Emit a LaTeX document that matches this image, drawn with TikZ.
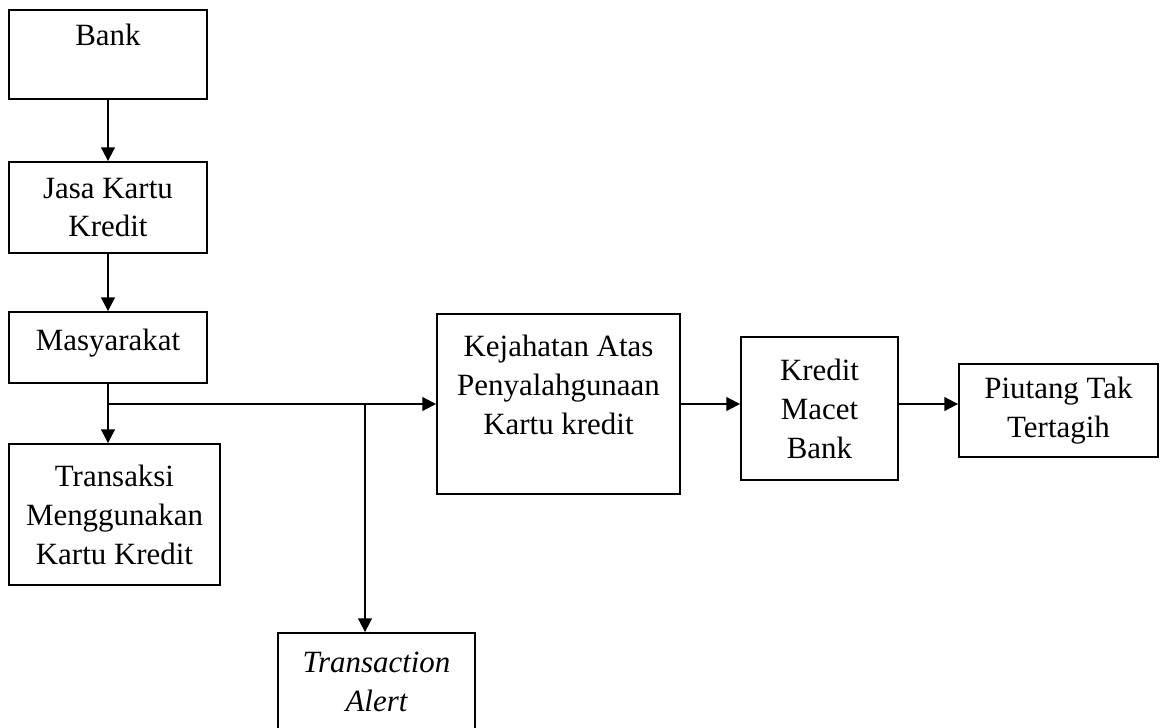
\documentclass[tikz,border=0pt]{standalone}
\usepackage{fontspec}
\setmainfont{Liberation Serif}
\usepackage{tikz}
\usetikzlibrary{arrows.meta}

\begin{document}
\begin{tikzpicture}[
  kotak/.style={draw, line width=1.3pt, align=center, inner sep=1pt,
    font=\fontsize{22}{27.7}\selectfont},
  panah/.style={line width=1.3pt, -{Triangle[length=0.34cm,width=0.34cm]}}
]
\useasboundingbox (0,0) rectangle (29,-18.175);

%% kolom kiri %%%%%%%%%%%%%%%%%%%%%%%%%%%%%%%
\node[kotak, minimum width=4.95cm, minimum height=2.225cm] (bank) at (2.7,-1.3625) {Bank\\~};
\node[kotak, minimum width=4.95cm, minimum height=2.275cm] (jasa) at (2.7,-5.1875) {Jasa Kartu\\Kredit};
\node[kotak, minimum width=4.95cm, minimum height=1.775cm, text depth=0.4cm] (masy) at (2.7,-8.6875) {Masyarakat};
\node[kotak, minimum width=5.275cm, minimum height=3.525cm] (trans) at (2.8625,-12.8625) {Transaksi\\Menggunakan\\Kartu Kredit};
\node[kotak, minimum width=4.925cm, minimum height=2.425cm] (alert) at (9.4125,-17.0375) {\itshape Transaction\\\itshape Alert};

%% kolom kanan %%%%%%%%%%%%%%%%%%%%%%%%%%%%%%%
\node[kotak, minimum width=6.075cm, minimum height=4.5cm] (kej) at (13.9625,-10.1) {Kejahatan Atas\\Penyalahgunaan\\Kartu kredit\\~};
\node[kotak, minimum width=3.925cm, minimum height=3.575cm] (kredit) at (20.4875,-10.2125) {Kredit\\Macet\\Bank};
\node[kotak, minimum width=4.975cm, minimum height=2.325cm] (piutang) at (26.4625,-10.2625) {Piutang Tak\\Tertagih};

%% titik cabang
\coordinate (tik1) at (masy.south |- kej.west);
\coordinate (tik2) at (9.125,-10.1);

%% panah %%%%%%%%%%%%%%%%%%%%%%%%%%%%%%%%%%%%%
\draw[panah] (bank) -- (jasa);
\draw[panah] (jasa) -- (masy);
\draw[panah] (masy.south) -- (masy.south |- trans.north);
\draw[panah] (tik1) -- (kej.west);
\draw[panah] (tik2) -- (tik2 |- alert.north);
\draw[panah] (kej.east) -- (kej.east -| kredit.west);
\draw[panah] (kredit.east |- kej.east) -- (kej.east -| piutang.west);
\end{tikzpicture}
\end{document}
